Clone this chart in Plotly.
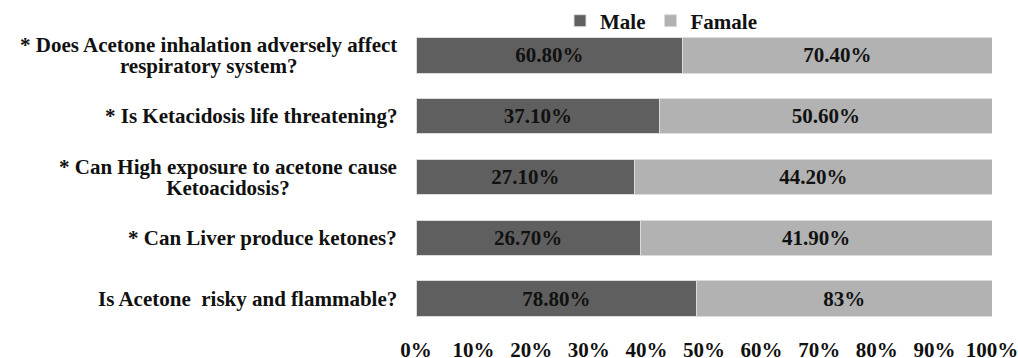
import plotly.graph_objects as go

# Survey questions, top to bottom (each entry is a list of wrapped lines)
question_lines = [
    ["* Does Acetone inhalation adversely affect", "respiratory system?"],
    ["* Is Ketacidosis life threatening?"],
    ["* Can High exposure to acetone cause", "Ketoacidosis?"],
    ["* Can Liver produce ketones?"],
    ["Is Acetone  risky and flammable?"],
]
male = [60.8, 37.1, 27.1, 26.7, 78.8]
female = [70.4, 50.6, 44.2, 41.9, 83.0]
series_names = ["Male", "Famale"]
x_ticks = [0, 10, 20, 30, 40, 50, 60, 70, 80, 90, 100]

questions = [" ".join(lines) for lines in question_lines]

FONT = "'Times New Roman', 'Liberation Serif', Times, serif"
FS = 21
DARK = "#5f5f5f"
LIGHT = "#b2b2b2"
INK = "#111111"


def pct_label(v):
    return f"{v:.2f}%" if v % 1 else f"{v:.0f}%"


fig = go.Figure()
for name, vals, color in [(series_names[0], male, DARK), (series_names[1], female, LIGHT)]:
    fig.add_trace(go.Bar(
        y=questions,
        x=vals,
        name=name,
        orientation="h",
        marker=dict(color=color, line=dict(color="#dcdcdc", width=1)),
        text=[pct_label(v) for v in vals],
        textposition="inside",
        insidetextanchor="middle",
        textangle=0,
        textfont=dict(family=FONT, size=FS, color=INK, weight="bold"),
        hoverinfo="skip",
    ))

# Category labels: right-aligned against the plot, wrapped lines centred.
# The base size of 16px sets a tight line pitch; the glyphs themselves are 21px.
for q, lines in zip(questions, question_lines):
    text = "<br>".join(f"<span style='font-size:{FS}px'>{ln}</span>" for ln in lines)
    fig.add_annotation(
        xref="paper", yref="y", x=0, y=q, xanchor="right", yanchor="middle",
        xshift=-17, text=text, align="center", showarrow=False,
        font=dict(family=FONT, size=16, color=INK, weight="bold"),
    )

fig.update_layout(
    width=1018, height=358,
    margin=dict(l=416, r=26, t=24.5, b=28.5, autoexpand=False),
    paper_bgcolor="white", plot_bgcolor="white",
    barmode="stack", barnorm="percent", bargap=0.42,
    showlegend=True,
    legend=dict(
        orientation="h", x=0.25, xanchor="left", y=1.013, yanchor="middle",
        font=dict(family=FONT, size=FS, color=INK, weight="bold"),
        itemwidth=30, traceorder="normal", bgcolor="rgba(0,0,0,0)",
    ),
    xaxis=dict(
        range=[0, 100], tickmode="array", tickvals=x_ticks,
        ticktext=[f"{v}%" for v in x_ticks],
        showgrid=False, zeroline=False, showline=False, ticks="",
        ticklabelstandoff=6, ticklabeloverflow="allow", automargin=False,
        tickfont=dict(family=FONT, size=FS, color=INK, weight="bold"),
    ),
    yaxis=dict(
        categoryorder="array", categoryarray=questions, autorange="reversed",
        showticklabels=False, showgrid=False, zeroline=False, showline=False, ticks="",
        automargin=False,
    ),
)

fig.write_html("out.html")
